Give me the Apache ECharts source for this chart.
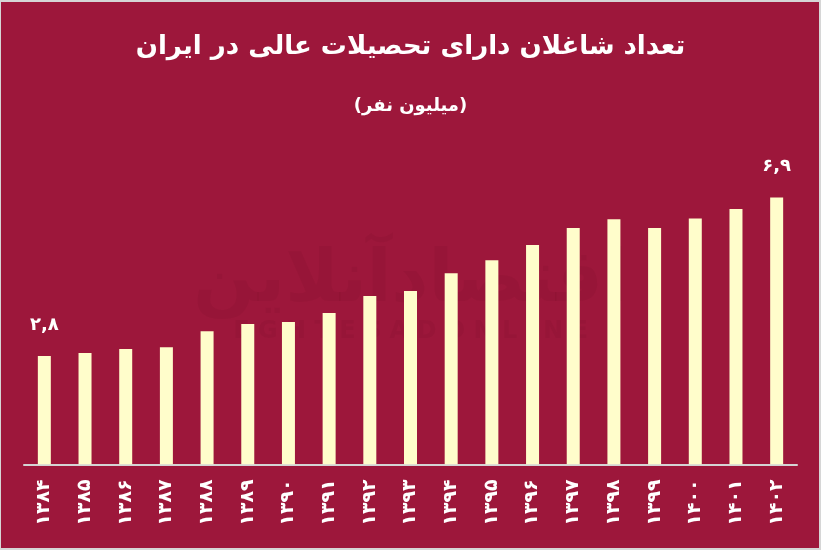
<!DOCTYPE html>
<html><head><meta charset="utf-8">
<script src="https://cdn.jsdelivr.net/npm/echarts@6/dist/echarts.min.js"></script>
<style>html,body{margin:0;padding:0;background:#d6d6d6;}#c{width:821px;height:550px;}</style>
</head><body><div id="c"></div>
<script>
const titleText = 'تعداد شاغلان دارای تحصیلات عالی در ایران';
const subtitleText = '(میلیون نفر)';
const years = ['۱۳۸۴','۱۳۸۵','۱۳۸۶','۱۳۸۷','۱۳۸۸','۱۳۸۹','۱۳۹۰','۱۳۹۱','۱۳۹۲','۱۳۹۳','۱۳۹۴','۱۳۹۵','۱۳۹۶','۱۳۹۷','۱۳۹۸','۱۳۹۹','۱۴۰۰','۱۴۰۱','۱۴۰۲'];
const values = [2.8, 2.88, 2.98, 3.03, 3.44, 3.63, 3.68, 3.91, 4.35, 4.48, 4.94, 5.28, 5.67, 6.11, 6.34, 6.11, 6.36, 6.6, 6.9];
const labelled = [0, 18];

const RED = '#9d173b';
const toFa = s => String(s).replace(/[0-9]/g, d => '۰۱۲۳۴۵۶۷۸۹'[d]).replace('.', ',');

const chart = echarts.init(document.getElementById('c'), null, {renderer: 'canvas'});
chart.setOption({
  backgroundColor: '#d6d6d6',
  animation: false,
  graphic: [
    {type: 'rect', z: -10, shape: {x: 1, y: 2, width: 818, height: 546}, style: {fill: RED}},
    {type: 'text', z: -5, left: 'center', top: 246, style: {text: 'اقتصادآنلاین', fontSize: 72, fontWeight: 'bold', fontFamily: 'DejaVu Sans', fill: 'rgba(60,0,20,0.06)'}},
    {type: 'text', z: -5, left: 'center', top: 320, style: {text: 'E G H T E S A D O N L I N E', fontSize: 24, fontWeight: 'bold', fontFamily: 'DejaVu Sans', fill: 'rgba(60,0,20,0.06)'}}
  ],
  title: [
    {text: titleText, left: 'center', top: 29, textStyle: {color: '#fff', fontSize: 26, fontWeight: 'bold', fontFamily: 'DejaVu Sans'}},
    {text: subtitleText, left: 'center', top: 92, textStyle: {color: '#fff', fontSize: 18, fontWeight: 'bold', fontFamily: 'DejaVu Sans'}}
  ],
  grid: {left: 24, right: 24, top: 174.3, bottom: 85.7, containLabel: false},
  xAxis: {
    type: 'category', data: years,
    axisLine: {lineStyle: {color: '#d4d4d4', width: 2}},
    axisTick: {show: false},
    axisLabel: {rotate: 90, margin: 15, color: '#fff', fontSize: 19, fontWeight: 'bold', fontFamily: 'DejaVu Sans', interval: 0}
  },
  yAxis: {type: 'value', min: 0, max: 7.5, show: false, splitLine: {show: false}},
  series: [{
    type: 'bar', barWidth: 13,
    itemStyle: {color: '#fffdcb'},
    data: values.map((v, i) => ({
      value: v,
      label: {show: labelled.includes(i), position: 'top', distance: 22, color: '#fff', fontSize: 18, fontWeight: 'bold', fontFamily: 'DejaVu Sans', formatter: p => toFa(p.value)}
    }))
  }]
});
</script></body></html>
